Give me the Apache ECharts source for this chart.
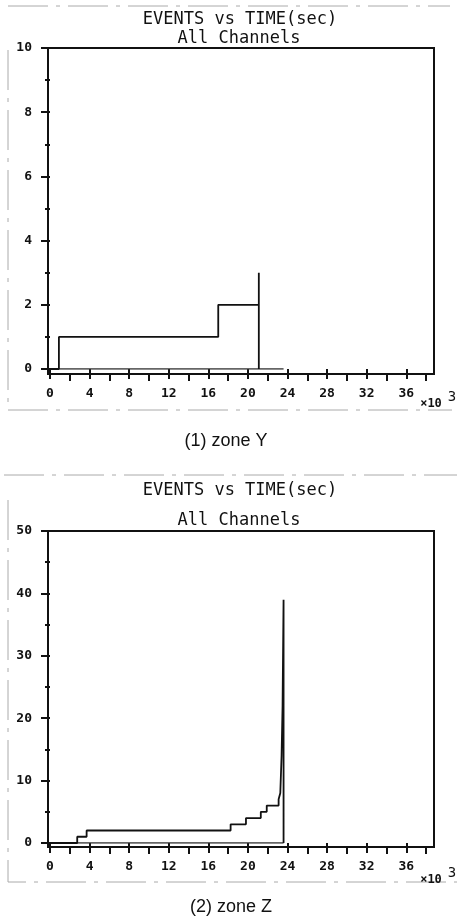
<!DOCTYPE html>
<html>
<head>
<meta charset="utf-8">
<script src="https://cdn.jsdelivr.net/npm/echarts@6/dist/echarts.min.js"></script>
<style>
  html, body { margin: 0; padding: 0; background: #fff; }
  #chart { width: 457px; height: 920px; }
</style>
</head>
<body>
<div id="chart"></div>
<script>
// ---- Data (time in units of 10^3 s, cumulative events) ----
var xMajorTicks = [0, 4, 8, 12, 16, 20, 24, 28, 32, 36];
var xMinorTicks = [2, 6, 10, 14, 18, 22, 26, 30, 34, 38];

// zone Y
var zoneYTime   = [0, 0.9, 0.9, 17.0, 17.0, 21.1, 21.1, 21.1];
var zoneYEvents = [0, 0,   1,   1,    2,    2,    3,    0];
var zoneYBaseTime   = [0, 23.6];
var zoneYBaseEvents = [0, 0];

// zone Z
var zoneZTime   = [0, 2.75, 2.75, 3.7, 3.7, 18.25, 18.25, 19.8, 19.8, 21.3, 21.3, 21.9, 21.9, 23.1, 23.1, 23.27, 23.27, 23.4, 23.4, 23.5, 23.5, 23.6, 23.6, 23.6];
var zoneZEvents = [0, 0,    1,    1,   2,   2,     3,     3,    4,    4,    5,    5,    6,    6,    7,    7,     8,     8,    14,   14,   22,   22,   39,   0];
var zoneZBaseTime   = [0, 23.6];
var zoneZBaseEvents = [0, 0];

function pairs(xs, ys) { return xs.map(function (x, i) { return [x, ys[i]]; }); }

var MONO = "'DejaVu Sans Mono', 'Liberation Mono', monospace";
var labelFont = { fontFamily: MONO, fontWeight: 'bold', fontSize: 13, color: '#111' };

function panel(boxTop, boxBottom, dataBottom, yMax, yInterval, gBox, gData) {
  return {
    grids: [
      { left: 48, top: boxTop, width: 386, height: boxBottom - boxTop, show: true,
        borderColor: '#111', borderWidth: 2, backgroundColor: 'transparent', containLabel: false },
      { left: 50, top: boxTop, width: 384, height: dataBottom - boxTop, show: false, containLabel: false }
    ],
    xAxes: [
      { gridIndex: gBox, type: 'value', show: false, min: 0, max: 1 },
      { gridIndex: gData, type: 'value', position: 'bottom', min: 0, max: 38.8, offset: boxBottom - dataBottom,
        axisLine: { show: false }, splitLine: { show: false },
        axisTick: { show: true, customValues: xMajorTicks, length: 10, lineStyle: { color: '#111', width: 2 } },
        axisLabel: Object.assign({ show: true, customValues: xMajorTicks, margin: 13 }, labelFont) },
      { gridIndex: gData, type: 'value', position: 'bottom', min: 0, max: 38.8, offset: boxBottom - dataBottom,
        axisLine: { show: false }, splitLine: { show: false },
        axisTick: { show: true, customValues: xMinorTicks, length: 7, lineStyle: { color: '#111', width: 2 } },
        axisLabel: { show: false } }
    ],
    yAxes: [
      { gridIndex: gBox, type: 'value', show: false, min: 0, max: 1 },
      { gridIndex: gData, type: 'value', position: 'left', min: 0, max: yMax, interval: yInterval, offset: 2,
        axisLine: { show: false }, splitLine: { show: false },
        axisTick: { show: true, length: 9, lineStyle: { color: '#111', width: 2 } },
        minorTick: { show: true, splitNumber: 2, length: 5, lineStyle: { color: '#111', width: 2 } },
        minorSplitLine: { show: false },
        axisLabel: Object.assign({ show: true, margin: 16 }, labelFont) }
    ]
  };
}

var p1 = panel(48, 374, 369, 10, 2, 0, 1);
var p2 = panel(531, 847, 843, 50, 10, 2, 3);

var grids = p1.grids.concat(p2.grids);
var xAxes = p1.xAxes.concat(p2.xAxes);
var yAxes = p1.yAxes.concat(p2.yAxes);

var stepStyle = { color: '#111', width: 1.8 };
var baseStyle = { color: '#333', width: 1.3 };

var series = [
  { type: 'line', xAxisIndex: 1, yAxisIndex: 1, data: pairs(zoneYBaseTime, zoneYBaseEvents), symbol: 'none', lineStyle: baseStyle, z: 3 },
  { type: 'line', xAxisIndex: 1, yAxisIndex: 1, data: pairs(zoneYTime, zoneYEvents), symbol: 'none', lineStyle: stepStyle, z: 4 },
  { type: 'line', xAxisIndex: 4, yAxisIndex: 3, data: pairs(zoneZBaseTime, zoneZBaseEvents), symbol: 'none', lineStyle: baseStyle, z: 3 },
  { type: 'line', xAxisIndex: 4, yAxisIndex: 3, data: pairs(zoneZTime, zoneZEvents), symbol: 'none', lineStyle: stepStyle, z: 4 }
];

function txt(text, x, y, font, align) {
  return { type: 'text', x: x, y: y, silent: true,
    style: { text: text, font: font, fill: '#111', align: align || 'center', verticalAlign: 'middle' } };
}
function dash(points) {
  return { type: 'polyline', silent: true, shape: { points: points },
    style: { stroke: '#aaa', lineWidth: 1, lineDash: [40, 8, 4, 8], fill: null } };
}

var titleFont = "17px " + MONO;
var capFont = "18px 'Liberation Sans', Arial, sans-serif";
var supFontA = "bold 12px " + MONO;
var supFontB = "14px " + MONO;

var graphic = [
  dash([[8, 6], [450, 6]]),
  dash([[8, 50], [8, 410], [452, 410]]),
  dash([[4, 475], [457, 475]]),
  dash([[8, 500], [8, 882], [457, 882]]),
  txt('EVENTS vs TIME(sec)', 240, 20, titleFont),
  txt('All Channels', 239, 39, titleFont),
  txt('EVENTS vs TIME(sec)', 240, 491, titleFont),
  txt('All Channels', 239, 521, titleFont),
  txt('\u00d710', 431, 404, supFontA),
  txt('3', 452, 397, supFontB),
  txt('\u00d710', 431, 880, supFontA),
  txt('3', 452, 873, supFontB),
  txt('(1) zone Y', 226, 441, capFont),
  txt('(2) zone Z', 231, 907, capFont)
];

var chart = echarts.init(document.getElementById('chart'), null, { renderer: 'canvas' });
chart.setOption({
  animation: false,
  backgroundColor: '#fff',
  grid: grids,
  xAxis: xAxes,
  yAxis: yAxes,
  series: series,
  graphic: graphic
});
</script>
</body>
</html>
